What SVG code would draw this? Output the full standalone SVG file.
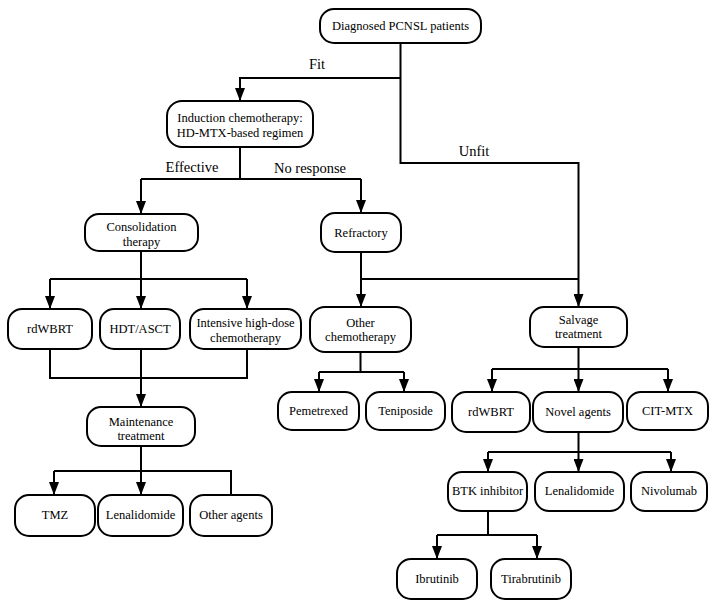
<svg xmlns="http://www.w3.org/2000/svg" width="718" height="607" viewBox="0 0 718 607">
<defs>
<marker id="arr" viewBox="0 0 13 10" markerWidth="13" markerHeight="10" refX="13" refY="5" orient="auto" markerUnits="userSpaceOnUse">
<path d="M0,0 L13,5 L0,10 z" fill="#000"/>
</marker>
<style>
.box{fill:#fff;stroke:#000;stroke-width:2}
.t{font-size:12.5px;fill:#000;text-anchor:middle}
.lbl{font-size:14.5px;fill:#000;text-anchor:middle}
.c{fill:none;stroke:#000;stroke-width:2}
.a{fill:none;stroke:#000;stroke-width:2;marker-end:url(#arr)}
</style>
</defs>
<rect width="718" height="607" fill="#fff"/>
<g font-family="Liberation Serif, Times New Roman, DejaVu Serif, serif">
<g id="connectors">
<path class="a" d="M400.5,43 V163 H578.5 V307"/>
<path class="a" d="M400.5,78 H240 V101"/>
<path class="c" d="M240,147 V179 M141,179 H361"/>
<path class="a" d="M141,179 V214"/>
<path class="a" d="M361,179 V213"/>
<path class="c" d="M141,251 V279 M50,279 H247"/>
<path class="a" d="M50,279 V309"/>
<path class="a" d="M141,279 V309"/>
<path class="a" d="M247,279 V309"/>
<path class="c" d="M50,349 V378 H247 V349"/>
<path class="a" d="M141,349 V407"/>
<path class="c" d="M141,446 V471 M54,471 H231 V495"/>
<path class="a" d="M54,471 V495"/>
<path class="a" d="M141,471 V495"/>
<path class="c" d="M361,252 V279 H578.5"/>
<path class="a" d="M361,279 V307"/>
<path class="c" d="M360.5,352 V372 M319,372 H404"/>
<path class="a" d="M319,372 V392"/>
<path class="a" d="M404,372 V392"/>
<path class="c" d="M578.5,347 V369 M492,369 H668"/>
<path class="a" d="M492,369 V392"/>
<path class="a" d="M578.5,369 V392"/>
<path class="a" d="M668,369 V392"/>
<path class="c" d="M578.5,432 V452 M488,452 H671"/>
<path class="a" d="M488,452 V472"/>
<path class="a" d="M578.5,452 V472"/>
<path class="a" d="M671,452 V472"/>
<path class="c" d="M488,511 V535 M437,535 H537"/>
<path class="a" d="M437,535 V559"/>
<path class="a" d="M537,535 V559"/>
<text class="lbl" x="317" y="69">Fit</text>
<text class="lbl" x="474" y="156">Unfit</text>
<text class="lbl" x="192" y="172">Effective</text>
<text class="lbl" x="310" y="173">No response</text>
</g>
<g id="n_diag"><rect class="box" x="320" y="9" width="161" height="34" rx="14"/><text class="t" x="400.5" y="30">Diagnosed PCNSL patients</text></g>
<g id="n_induction"><rect class="box" x="167" y="101" width="146" height="46" rx="15"/><text class="t" x="240" y="122">Induction chemotherapy:</text><text class="t" x="240" y="137">HD-MTX-based regimen</text></g>
<g id="n_consol"><rect class="box" x="85" y="214" width="113" height="37" rx="14"/><text class="t" x="141.5" y="231">Consolidation</text><text class="t" x="141.5" y="246">therapy</text></g>
<g id="n_refractory"><rect class="box" x="321" y="213" width="80" height="39" rx="14"/><text class="t" x="361" y="237">Refractory</text></g>
<g id="n_rdwbrt1"><rect class="box" x="8" y="309" width="84" height="40" rx="14"/><text class="t" x="50" y="333">rdWBRT</text></g>
<g id="n_hdt"><rect class="box" x="100" y="309" width="80" height="40" rx="14"/><text class="t" x="140" y="333">HDT/ASCT</text></g>
<g id="n_intensive"><rect class="box" x="190" y="309" width="111" height="40" rx="14"/><text class="t" x="245.5" y="327">Intensive high-dose</text><text class="t" x="245.5" y="342">chemotherapy</text></g>
<g id="n_otherchemo"><rect class="box" x="310" y="307" width="101" height="45" rx="15"/><text class="t" x="360.5" y="327">Other</text><text class="t" x="360.5" y="341">chemotherapy</text></g>
<g id="n_salvage"><rect class="box" x="530" y="307" width="97" height="40" rx="14"/><text class="t" x="578.5" y="324">Salvage</text><text class="t" x="578.5" y="338">treatment</text></g>
<g id="n_maint"><rect class="box" x="87" y="407" width="108" height="39" rx="14"/><text class="t" x="141" y="426">Maintenance</text><text class="t" x="141" y="440">treatment</text></g>
<g id="n_pem"><rect class="box" x="278" y="392" width="81" height="38" rx="14"/><text class="t" x="318.5" y="415">Pemetrexed</text></g>
<g id="n_teni"><rect class="box" x="366" y="392" width="79" height="38" rx="14"/><text class="t" x="405.5" y="415">Teniposide</text></g>
<g id="n_rdwbrt2"><rect class="box" x="452" y="392" width="78" height="40" rx="14"/><text class="t" x="491" y="416">rdWBRT</text></g>
<g id="n_novel"><rect class="box" x="533" y="392" width="90" height="40" rx="14"/><text class="t" x="578" y="416">Novel agents</text></g>
<g id="n_cit"><rect class="box" x="627" y="392" width="81" height="38" rx="14"/><text class="t" x="667.5" y="415">CIT-MTX</text></g>
<g id="n_tmz"><rect class="box" x="15" y="495" width="80" height="41" rx="14"/><text class="t" x="55" y="519">TMZ</text></g>
<g id="n_lena1"><rect class="box" x="98" y="495" width="85" height="41" rx="14"/><text class="t" x="140.5" y="519">Lenalidomide</text></g>
<g id="n_otheragents"><rect class="box" x="190" y="495" width="82" height="41" rx="14"/><text class="t" x="231" y="519">Other agents</text></g>
<g id="n_btk"><rect class="box" x="448" y="472" width="79" height="39" rx="14"/><text class="t" x="487.5" y="495">BTK inhibitor</text></g>
<g id="n_lena2"><rect class="box" x="535" y="472" width="89" height="39" rx="14"/><text class="t" x="579.5" y="495">Lenalidomide</text></g>
<g id="n_nivo"><rect class="box" x="631" y="472" width="76" height="39" rx="14"/><text class="t" x="669" y="495">Nivolumab</text></g>
<g id="n_ibru"><rect class="box" x="397" y="559" width="80" height="40" rx="14"/><text class="t" x="437" y="583">Ibrutinib</text></g>
<g id="n_tira"><rect class="box" x="491" y="559" width="80" height="40" rx="14"/><text class="t" x="531" y="583">Tirabrutinib</text></g>
</g>
</svg>
